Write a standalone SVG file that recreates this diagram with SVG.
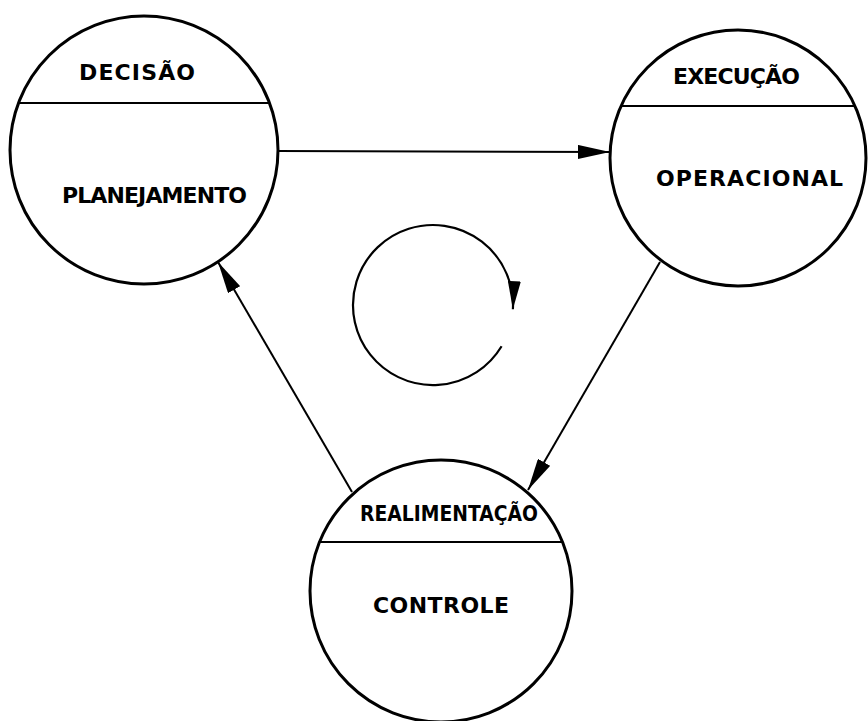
<svg xmlns="http://www.w3.org/2000/svg" width="868" height="721" viewBox="0 0 868 721">
<style>
.c{fill:none;stroke:#000;stroke-width:3}
.d{stroke:#000;stroke-width:2}
.t{font-family:"DejaVu Sans","Liberation Sans",Arial,sans-serif;font-weight:bold;font-size:22px;fill:#000;text-anchor:middle}
.e{fill:none;stroke:#000;stroke-width:2.2}
</style>
<defs>
<marker id="ah" markerUnits="userSpaceOnUse" viewBox="0 0 32 14" refX="32" refY="7" markerWidth="32" markerHeight="14" orient="auto">
<path d="M0,0 L32,7 L0,14 z" fill="#000"/>
</marker>
<marker id="ah2" markerUnits="userSpaceOnUse" viewBox="0 0 28 13" refX="28" refY="6.5" markerWidth="28" markerHeight="13" orient="auto">
<path d="M0,0 L28,6.5 L0,13 z" fill="#000"/>
</marker>
</defs>
<rect width="868" height="721" fill="#fff"/>
<g id="decisao">
<circle class="c" cx="144" cy="150" r="134"/>
<line class="d" x1="18" y1="103" x2="270" y2="103"/>
<text class="t" x="137" y="80" textLength="116" lengthAdjust="spacing">DECISÃO</text>
<text class="t" x="154.5" y="203" textLength="185" lengthAdjust="spacing">PLANEJAMENTO</text>
</g>
<g id="execucao">
<circle class="c" cx="738" cy="158" r="128"/>
<line class="d" x1="620" y1="106" x2="856" y2="106"/>
<text class="t" x="736.5" y="84" textLength="127" lengthAdjust="spacing">EXECUÇÃO</text>
<text class="t" x="749.5" y="186" textLength="187" lengthAdjust="spacing">OPERACIONAL</text>
</g>
<g id="realimentacao">
<circle class="c" cx="441" cy="591" r="131"/>
<line class="d" x1="320" y1="542" x2="562" y2="542"/>
<text class="t" x="449" y="521" textLength="178" lengthAdjust="spacingAndGlyphs">REALIMENTAÇÃO</text>
<text class="t" x="441" y="613" textLength="136" lengthAdjust="spacing">CONTROLE</text>
</g>
<g id="connectors">
<line class="d" x1="277" y1="151" x2="610" y2="152" stroke-width="2.5" marker-end="url(#ah)"/>
<line class="d" x1="660" y1="262" x2="528" y2="490" marker-end="url(#ah)"/>
<line class="d" x1="352" y1="492" x2="218" y2="262" marker-end="url(#ah)"/>
<path class="e" d="M501.6,346.2 A80,80 0 1 1 512.9,309.2" marker-end="url(#ah2)"/>
</g>
</svg>
